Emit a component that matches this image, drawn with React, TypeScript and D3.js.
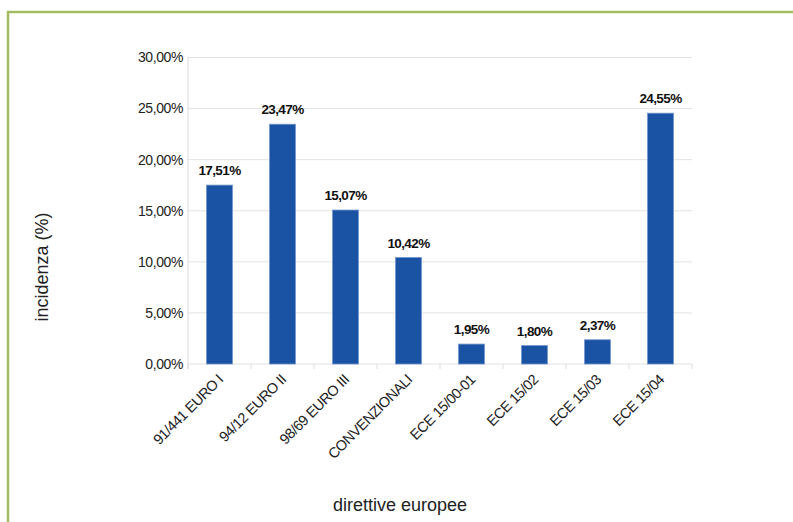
import React from "react";
import * as d3 from "d3";

const categories = [
  "91/441 EURO I",
  "94/12 EURO II",
  "98/69 EURO III",
  "CONVENZIONALI",
  "ECE 15/00-01",
  "ECE 15/02",
  "ECE 15/03",
  "ECE 15/04",
];
const values = [17.51, 23.47, 15.07, 10.42, 1.95, 1.8, 2.37, 24.55];
const yTicks = [0, 5, 10, 15, 20, 25, 30];

const W = 793;
const H = 522;
const left = 188;
const right = 692;
const top = 57.5;
const bottom = 364;

const fmt = (v: number) => v.toFixed(2).replace(".", ",") + "%";

export default function App() {
  const x = d3.scaleBand<string>().domain(categories).range([left, right]).paddingInner(0.59).paddingOuter(0.295);
  const xb = d3.scaleBand<string>().domain(categories).range([left, right]);
  const y = d3.scaleLinear().domain([0, 30]).range([bottom, top]);
  const font = "Liberation Sans, Arial, sans-serif";
  const boundaries = d3.range(categories.length + 1).map((i) => left + i * xb.step());
  return (
    <svg width={W} height={H} style={{ position: "absolute", left: 0, top: 0, fontFamily: font }}>
      <rect x={0} y={0} width={W} height={H} fill="#fff" />
      <line x1={7} y1={12} x2={W} y2={12} stroke="#a5bd62" strokeWidth={2.5} />
      <line x1={8} y1={11} x2={8} y2={H} stroke="#a5bd62" strokeWidth={2.5} />
      {yTicks.map((t) => (
        <g key={t}>
          <line x1={left} x2={right} y1={y(t)} y2={y(t)} stroke="#e3e3e3" strokeWidth={1} />
          <text x={183} y={y(t)} dy="0.35em" textAnchor="end" fontSize={14} letterSpacing={-0.4} fill="#222">
            {fmt(t)}
          </text>
        </g>
      ))}
      <line x1={left} x2={left} y1={top} y2={bottom + 5} stroke="#dcdcdc" />
      {boundaries.map((b, i) => (
        <line key={i} x1={b} x2={b} y1={bottom} y2={bottom + 5} stroke="#dcdcdc" />
      ))}
      {categories.map((c, i) => (
        <g key={c}>
          <rect
            x={x(c)!}
            y={y(values[i])}
            width={x.bandwidth()}
            height={bottom - y(values[i])}
            fill="#1b53a4"
            stroke="#6f95cc"
            strokeWidth={0.8}
          />
          <text
            x={x(c)! + x.bandwidth() / 2}
            y={y(values[i]) - 10}
            textAnchor="middle"
            fontSize={13.5}
            fontWeight="bold"
            letterSpacing={-0.6}
            fill="#111"
          >
            {fmt(values[i])}
          </text>
          <text
            transform={`translate(${xb(c)! + xb.bandwidth() / 2 + 1},${bottom + 13}) rotate(-45)`}
            textAnchor="end"
            fontSize={14.5}
            letterSpacing={-0.5}
            dy="0.35em"
            fill="#222"
          >
            {c}
          </text>
        </g>
      ))}
      <text
        transform={`translate(48,267) rotate(-90)`}
        textAnchor="middle"
        fontSize={18}
        fill="#222"
      >
        incidenza (%)
      </text>
      <text x={400} y={511} textAnchor="middle" fontSize={18} fill="#222">
        direttive europee
      </text>
    </svg>
  );
}
